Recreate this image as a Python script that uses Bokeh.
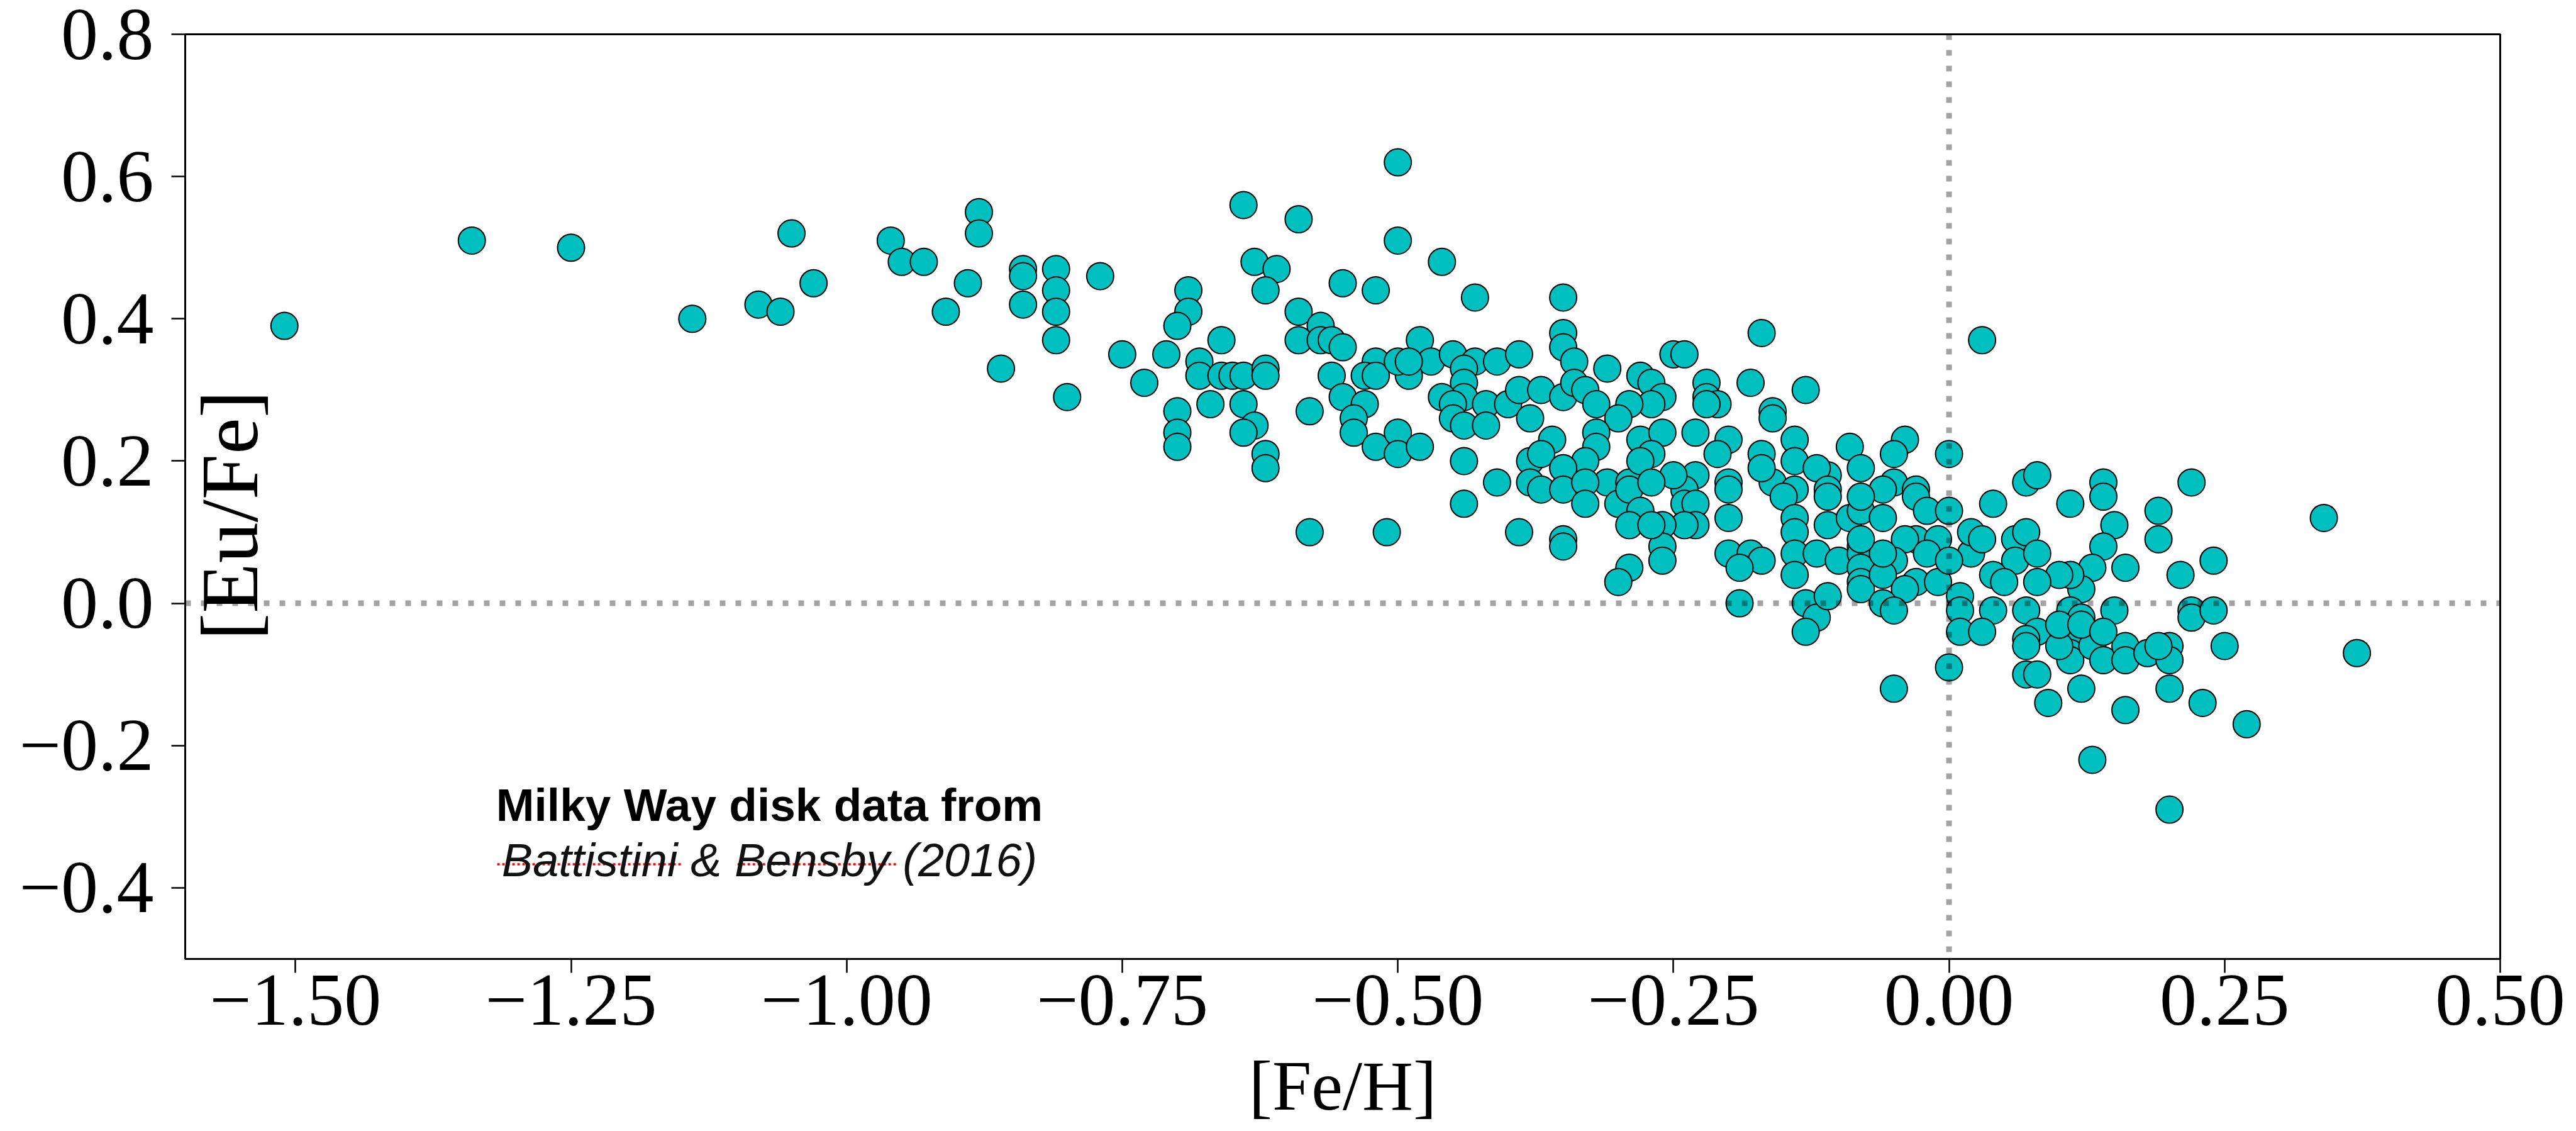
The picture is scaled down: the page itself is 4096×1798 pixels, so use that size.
from bokeh.plotting import figure
from bokeh.models import Range1d, Label, Span, FixedTicker, CustomJSTickFormatter
from bokeh.embed import file_html
from bokeh.resources import INLINE

# ---------------- data: [Fe/H] and [Eu/Fe] (Battistini & Bensby 2016)
fe_h = [
    -1.51, -1.34, -1.25, -1.14, -1.08, -1.06, -1.05, -1.03, -0.96, -0.95,
    -0.93, -0.91, -0.89, -0.88, -0.88, -0.86, -0.84, -0.84, -0.84, -0.81,
    -0.81, -0.81, -0.81, -0.80, -0.77, -0.75, -0.73, -0.71,
    -0.50, -0.64, -0.59, -0.50, -0.63, -0.61, -0.62, -0.46, -0.55, -0.52,
    -0.43, -0.69, -0.69, -0.70, -0.66, -0.68, -0.68, -0.66, -0.65, -0.64,
    -0.62, -0.62, -0.67, -0.64, -0.63, -0.64, -0.62, -0.62, -0.70, -0.70,
    -0.70, -0.59, -0.57, -0.59, -0.57, -0.56, -0.55, -0.56, -0.58, -0.55,
    -0.53, -0.54, -0.54, -0.52, -0.53, -0.52, -0.48, -0.47, -0.49, -0.50,
    -0.49, -0.45, -0.43, -0.41, -0.39, -0.44, -0.44, -0.44, -0.46, -0.45,
    -0.45, -0.44, -0.42, -0.42, -0.40, -0.39, -0.38, -0.37, -0.44, -0.41,
    -0.38, -0.38, -0.52, -0.50, -0.50, -0.48,
    -0.44, -0.58, -0.51, -0.39,
    -0.35, -0.35, -0.35, -0.17, 0.03, -0.34, -0.31, -0.25, -0.24, -0.28,
    -0.27, -0.26, -0.27, -0.29, -0.22, -0.22, -0.21, -0.22, -0.18, -0.13,
    -0.16, -0.16, -0.35, -0.34, -0.33, -0.32, -0.30, -0.32, -0.32, -0.33,
    -0.36, -0.37, -0.35, -0.31, -0.29, -0.28, -0.26, -0.27, -0.28, -0.23,
    -0.20, -0.21, -0.17, -0.14, -0.14, -0.09, -0.08, -0.04, -0.05, 0.00,
    -0.05, -0.03, -0.06, -0.11, -0.12, -0.11, -0.16, -0.14, -0.17, -0.20,
    -0.23, -0.24, -0.25,
    -0.37, -0.35, -0.33, -0.33, -0.30, -0.29, -0.27, -0.24, -0.23, -0.23,
    -0.24, -0.28, -0.29, -0.26, -0.26, -0.26, -0.27, -0.29, -0.30, -0.35,
    -0.35, -0.20, -0.20, -0.20, -0.18, -0.17, -0.19, -0.19, -0.15, -0.14,
    -0.14, -0.14, -0.14, -0.12, -0.13, -0.12, -0.13, -0.11, -0.11, -0.11,
    -0.10, -0.09, -0.08, -0.08, -0.08, -0.08, -0.08, -0.08, -0.08, -0.06,
    -0.03, -0.02, 0.00, -0.03, -0.01, -0.04, -0.05, -0.06, -0.03, -0.04,
    -0.01, -0.06, -0.05, -0.02, -0.06, -0.08, 0.01, 0.01, 0.01, 0.00,
    -0.05, 0.02, 0.02, 0.00,
    0.07, 0.08, 0.14, 0.22, 0.14, 0.04, 0.11, 0.15, 0.19, 0.19,
    0.34, 0.14, 0.16, 0.13, 0.21, 0.24, 0.12, 0.11, 0.10, 0.08,
    0.06, 0.06, 0.04, 0.03, 0.07, 0.08, 0.05, 0.04, 0.07, 0.11,
    0.12, 0.15, 0.22, 0.22, 0.24, 0.03, 0.08, 0.07, 0.07, 0.11,
    0.11, 0.11, 0.13, 0.14, 0.16, 0.16, 0.18, 0.20, 0.20, 0.19,
    0.25, 0.10, 0.10, 0.12, 0.14, 0.07, 0.08, 0.12, 0.09, 0.16,
    0.20, 0.23, 0.27, 0.13, 0.20, 0.37,
]
eu_fe = [
    0.39, 0.51, 0.50, 0.40, 0.42, 0.41, 0.52, 0.45, 0.51, 0.48,
    0.48, 0.41, 0.45, 0.55, 0.52, 0.33, 0.47, 0.46, 0.42, 0.47,
    0.44, 0.41, 0.37, 0.29, 0.46, 0.35, 0.31, 0.35,
    0.62, 0.56, 0.54, 0.51, 0.48, 0.47, 0.44, 0.48, 0.45, 0.44,
    0.43, 0.44, 0.41, 0.39, 0.37, 0.34, 0.32, 0.32, 0.32, 0.32,
    0.33, 0.32, 0.28, 0.28, 0.25, 0.24, 0.21, 0.19, 0.27, 0.24,
    0.22, 0.41, 0.39, 0.37, 0.37, 0.37, 0.36, 0.32, 0.27, 0.29,
    0.28, 0.26, 0.24, 0.34, 0.32, 0.32, 0.37, 0.34, 0.32, 0.34,
    0.34, 0.35, 0.34, 0.34, 0.35, 0.33, 0.31, 0.29, 0.29, 0.28,
    0.26, 0.25, 0.28, 0.25, 0.28, 0.30, 0.26, 0.30, 0.20, 0.17,
    0.20, 0.17, 0.22, 0.24, 0.21, 0.22,
    0.14, 0.10, 0.10, 0.10,
    0.43, 0.38, 0.36, 0.38, 0.37, 0.34, 0.33, 0.35, 0.35, 0.32,
    0.31, 0.29, 0.28, 0.28, 0.31, 0.29, 0.28, 0.28, 0.31, 0.30,
    0.27, 0.26, 0.29, 0.31, 0.30, 0.28, 0.26, 0.24, 0.22, 0.20,
    0.23, 0.21, 0.19, 0.17, 0.17, 0.23, 0.24, 0.21, 0.20, 0.24,
    0.23, 0.21, 0.21, 0.23, 0.20, 0.22, 0.19, 0.23, 0.21, 0.21,
    0.17, 0.16, 0.16, 0.18, 0.19, 0.16, 0.17, 0.16, 0.19, 0.17,
    0.18, 0.16, 0.18,
    0.16, 0.16, 0.17, 0.14, 0.14, 0.16, 0.17, 0.14, 0.14, 0.11,
    0.11, 0.13, 0.11, 0.11, 0.08, 0.06, 0.11, 0.05, 0.03, 0.09,
    0.08, 0.16, 0.12, 0.07, 0.07, 0.06, 0.05, 0.00, 0.15, 0.12,
    0.10, 0.07, 0.04, 0.07, 0.00, -0.02, -0.04, 0.01, 0.15, 0.11,
    0.06, 0.12, 0.13, 0.15, 0.08, 0.07, 0.05, 0.03, 0.02, 0.12,
    0.15, 0.13, 0.13, 0.09, 0.09, 0.09, 0.06, 0.04, 0.03, 0.02,
    0.03, 0.00, -0.01, 0.07, 0.07, 0.09, 0.01, -0.01, -0.04, -0.09,
    -0.12, 0.07, 0.10, 0.06,
    0.17, 0.18, 0.17, 0.17, 0.15, 0.14, 0.14, 0.11, 0.13, 0.09,
    0.12, 0.08, 0.05, 0.05, 0.04, 0.06, 0.02, 0.04, 0.04, 0.03,
    0.09, 0.06, 0.04, 0.09, 0.10, 0.07, 0.03, -0.01, -0.01, -0.01,
    -0.02, -0.01, -0.01, -0.02, -0.01, -0.04, -0.04, -0.05, -0.06, -0.05,
    -0.07, -0.08, -0.06, -0.08, -0.06, -0.08, -0.07, -0.06, -0.08, -0.06,
    -0.06, -0.06, -0.03, -0.03, -0.04, -0.10, -0.10, -0.12, -0.14, -0.15,
    -0.12, -0.14, -0.17, -0.22, -0.29, -0.07,
]
assert len(fe_h) == len(eu_fe)

x_ticks = [-1.5, -1.25, -1.0, -0.75, -0.5, -0.25, 0.0, 0.25, 0.5]
y_ticks = [-0.4, -0.2, 0.0, 0.2, 0.4, 0.6, 0.8]
x_title = "[Fe/H]"
y_title = "[Eu/Fe]"
note_line1 = "Milky Way disk data from"
note_line2 = "Battistini & Bensby (2016)"

# ---------------- figure
W, H = 4096, 1798
p = figure(width=W, height=H,
           x_range=Range1d(-1.6, 0.5), y_range=Range1d(-0.5, 0.8),
           output_backend="svg", toolbar_location=None,
           min_border_left=294, min_border_right=121,
           min_border_top=54, min_border_bottom=274)
p.grid.visible = False
p.background_fill_color = "white"
p.border_fill_color = "white"
p.outline_line_color = "black"
p.outline_line_width = 3

serif = "Liberation Serif"
for ax in (p.xaxis[0], p.yaxis[0]):
    ax.axis_line_width = 3
    ax.axis_line_color = "black"
    ax.major_tick_line_width = 2.5
    ax.major_tick_line_color = "black"
    ax.major_tick_out = 22
    ax.major_tick_in = 0
    ax.minor_tick_line_color = None
    ax.major_label_text_font = serif
    ax.major_label_text_font_size = "118px"
    ax.major_label_text_color = "black"

p.xaxis.ticker = FixedTicker(ticks=x_ticks)
p.yaxis.ticker = FixedTicker(ticks=y_ticks)
p.xaxis.formatter = CustomJSTickFormatter(code="return tick.toFixed(2).replace('-', '\u2212');")
p.yaxis.formatter = CustomJSTickFormatter(code="return tick.toFixed(1).replace('-', '\u2212');")
p.xaxis.major_label_standoff = 4
p.yaxis.major_label_standoff = 28

# x-axis title as a real axis label (sits below the tick labels)
p.xaxis.axis_label = x_title
p.xaxis.axis_label_text_font = serif
p.xaxis.axis_label_text_font_size = "112px"
p.xaxis.axis_label_text_font_style = "normal"
p.xaxis.axis_label_text_color = "black"
p.xaxis.axis_label_standoff = 32

# ---------------- points
p.scatter(fe_h, eu_fe, marker="circle", size=43,
          fill_color="#00BFBF", line_color="black", line_width=2)

# ---------------- dotted reference lines (drawn over the points)
for dim in ("height", "width"):
    p.add_layout(Span(location=0, dimension=dim, line_color="black", line_alpha=0.36,
                      line_width=9, line_dash="9 16"))

# ---------------- y-axis title, placed inside the frame as in the original
p.add_layout(Label(x=70, y=705, x_units="screen", y_units="screen", text=y_title,
                   angle=90, angle_units="deg",
                   text_font=serif, text_font_size="130px", text_color="black",
                   text_align="center", text_baseline="middle"))

# ---------------- note
p.add_layout(Label(x=-1.07, y=-0.283, text=note_line1, text_font="Liberation Sans",
                   text_font_style="bold", text_font_size="73px", text_color="black",
                   text_align="center", text_baseline="alphabetic"))
p.add_layout(Label(x=-1.07, y=-0.361, text=note_line2, text_font="Liberation Sans",
                   text_font_style="italic", text_font_size="74px", text_color="#111111",
                   text_align="center", text_baseline="alphabetic"))
# red dotted spell-check underlines under the two names
p.segment(x0=[-1.317, -1.099], x1=[-1.150, -0.953], y0=[-0.367, -0.367], y1=[-0.367, -0.367],
          line_color="#ff0000", line_width=3.5, line_dash="4 4")

open("out.html", "w").write(file_html(p, INLINE))
